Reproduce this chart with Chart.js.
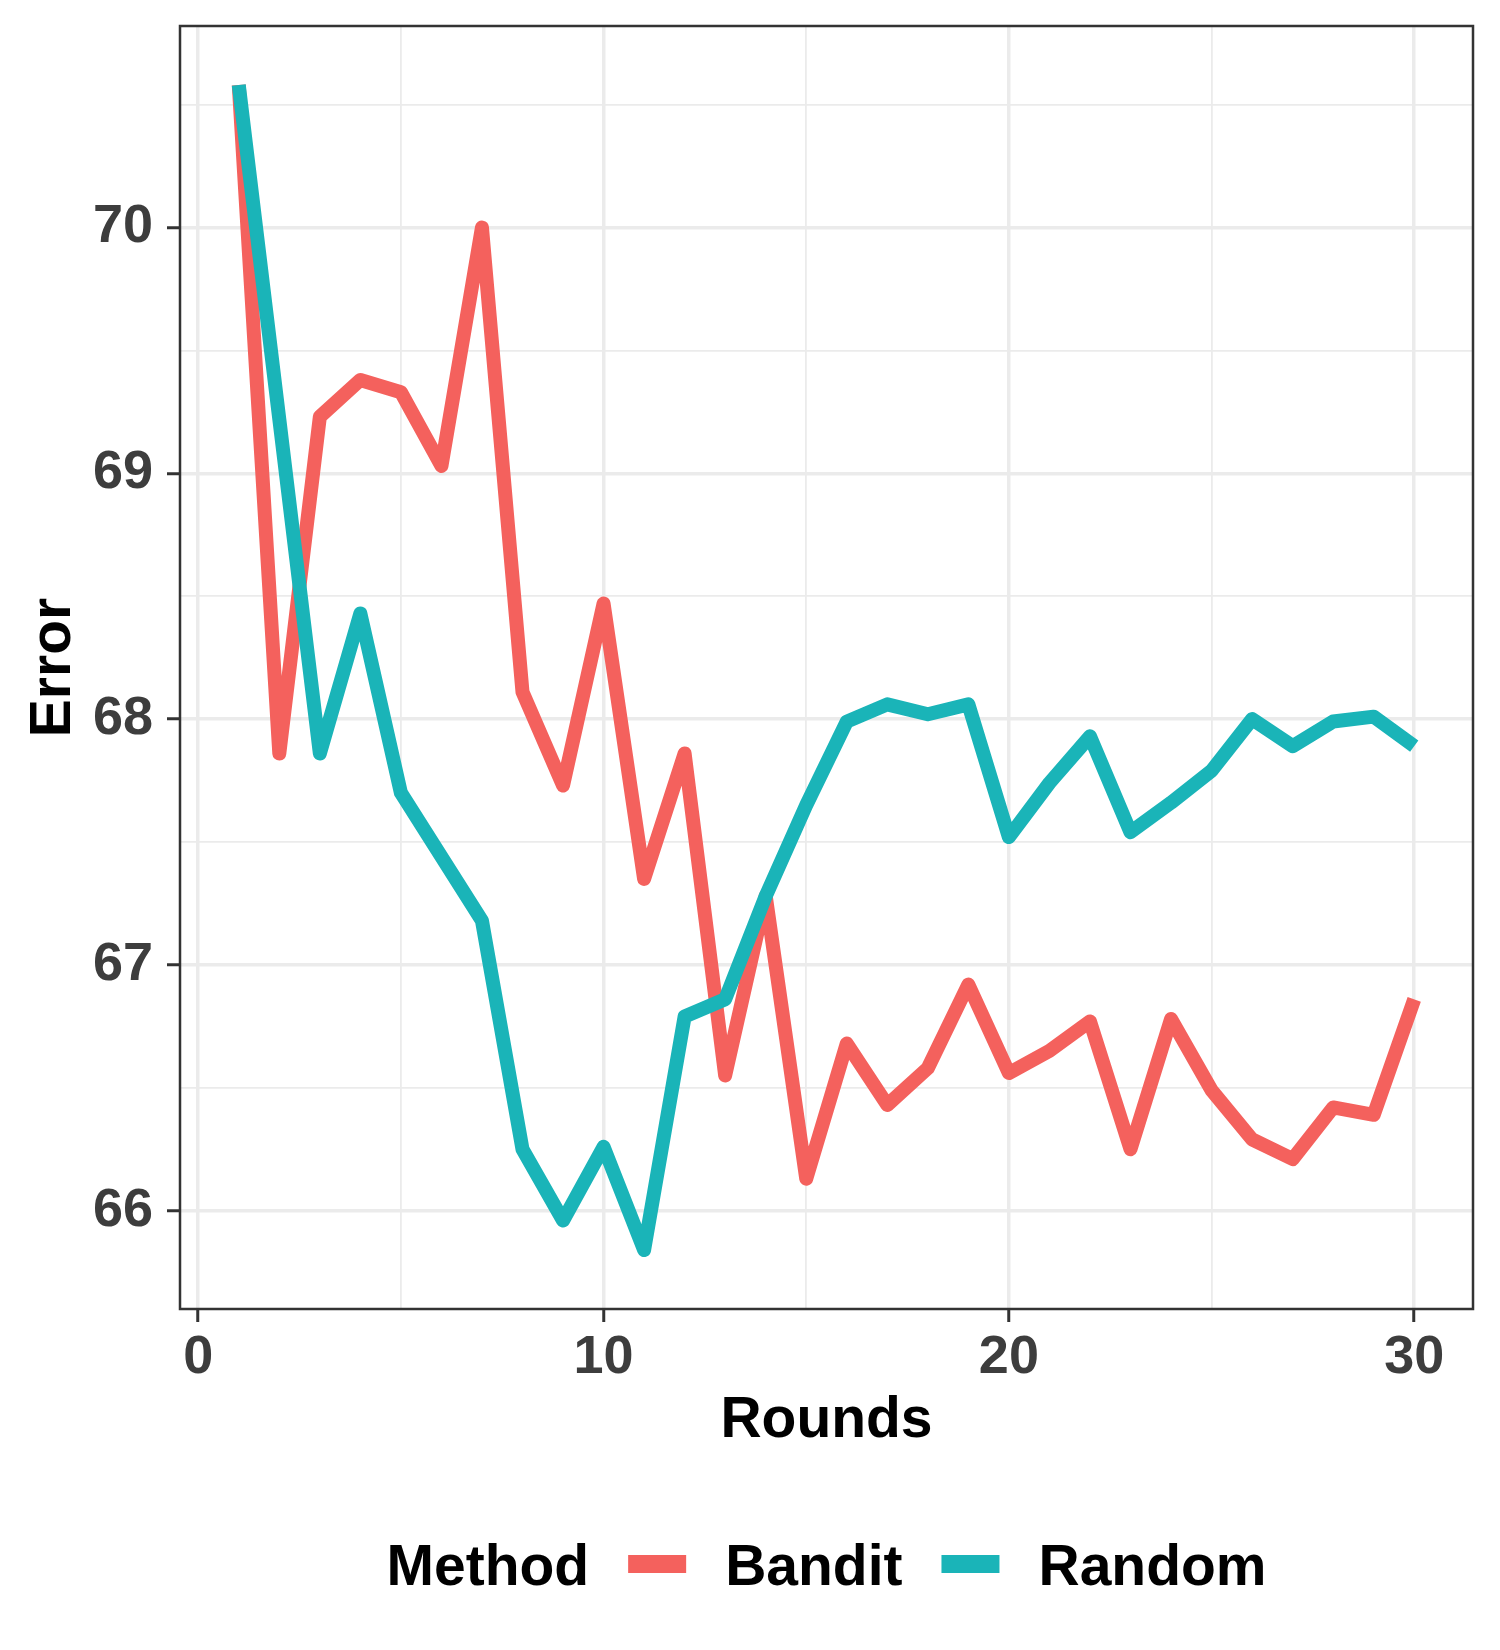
<!DOCTYPE html>
<html>
<head>
<meta charset="utf-8">
<script src="https://cdn.jsdelivr.net/npm/chart.js@4.4.1/dist/chart.umd.min.js"></script>
<style>
  html, body { margin: 0; padding: 0; background: #fff; }
  canvas { display: block; }
</style>
</head>
<body>
<canvas id="err" width="1500" height="1650" style="width:1500px;height:1650px"></canvas>
<script>
const ROUNDS = [1, 2, 3, 4, 5, 6, 7, 8, 9, 10, 11, 12, 13, 14, 15,
  16, 17, 18, 19, 20, 21, 22, 23, 24, 25, 26, 27, 28, 29, 30]
const BANDIT = [70.58, 67.86, 69.23, 69.38, 69.33, 69.03, 70.00, 68.11, 67.73, 68.47,
  67.35, 67.86, 66.55, 67.28, 66.13, 66.68, 66.43, 66.58, 66.92, 66.56,
  66.65, 66.77, 66.25, 66.78, 66.49, 66.29, 66.21, 66.42, 66.39, 66.86]
const RANDOM = [70.58, 69.22, 67.86, 68.43, 67.70, 67.44, 67.18, 66.25, 65.96, 66.26,
  65.84, 66.79, 66.86, 67.28, 67.65, 67.99, 68.06, 68.02, 68.06, 67.52,
  67.74, 67.93, 67.54, 67.66, 67.79, 68.00, 67.89, 67.99, 68.01, 67.89]
const X_TICKS = [0, 5, 10, 15, 20, 25, 30]
const Y_TICKS = [66, 66.5, 67, 67.5, 68, 68.5, 69, 69.5, 70, 70.5]
const METHODS = ['Bandit', 'Random']
const COLORS = ['#F4615D', '#1AB4B8']

const FONT = 'Liberation Sans, Arial, Helvetica, sans-serif'

function pts(vals) {
  return ROUNDS.map((r, i) => ({ x: r, y: vals[i] }))
}

// ggplot-style frame, axis titles and the inline legend
const decor = {
  id: 'decor',
  afterDraw(chart) {
    const ctx = chart.ctx
    const a = chart.chartArea
    ctx.save()
    ctx.strokeStyle = '#333333'
    ctx.lineWidth = 2.5
    ctx.strokeRect(a.left, a.top, a.right - a.left, a.bottom - a.top)

    ctx.fillStyle = '#000'
    ctx.font = 'bold 57px ' + FONT
    ctx.textAlign = 'center'
    ctx.textBaseline = 'alphabetic'
    const cx = (a.left + a.right) / 2
    ctx.fillText('Rounds', cx, 1437)

    ctx.save()
    ctx.translate(70, (a.top + a.bottom) / 2)
    ctx.rotate(-Math.PI / 2)
    ctx.fillText('Error', 0, 0)
    ctx.restore()

    // legend: "Method  [key] Bandit  [key] Random"
    ctx.textAlign = 'left'
    const gap = 39, keyW = 58, keyH = 18, base = 1585
    const wTitle = ctx.measureText('Method').width
    const wItems = METHODS.map(m => ctx.measureText(m).width)
    let total = wTitle
    wItems.forEach(w => { total += gap + keyW + gap + w })
    let x = cx - total / 2
    ctx.fillText('Method', x, base)
    x += wTitle
    METHODS.forEach((m, i) => {
      x += gap
      ctx.fillStyle = COLORS[i]
      ctx.fillRect(x, 1564 - keyH / 2, keyW, keyH)
      x += keyW + gap
      ctx.fillStyle = '#000'
      ctx.fillText(m, x, base)
      x += wItems[i]
    })
    ctx.restore()
  }
}

const chart = new Chart(document.getElementById('err'), {
  type: 'line',
  data: {
    datasets: [
      {
        label: METHODS[0],
        data: pts(BANDIT),
        borderColor: COLORS[0],
        borderWidth: 14,
        borderJoinStyle: 'round',
        borderCapStyle: 'butt',
        pointRadius: 0,
        tension: 0,
        order: 1,
      },
      {
        label: METHODS[1],
        data: pts(RANDOM),
        borderColor: COLORS[1],
        borderWidth: 14,
        borderJoinStyle: 'round',
        borderCapStyle: 'butt',
        pointRadius: 0,
        tension: 0,
        order: 0,
      },
    ],
  },
  options: {
    responsive: false,
    devicePixelRatio: 1,
    animation: false,
    layout: {
      autoPadding: false,
      padding: { left: 0, top: 26, right: 27, bottom: 0 },
    },
    plugins: {
      legend: { display: false },
      tooltip: { enabled: false },
    },
    scales: {
      x: {
        type: 'linear',
        min: -0.45,
        max: 31.45,
        afterBuildTicks: ax => { ax.ticks = X_TICKS.map(v => ({ value: v })) },
        afterFit: ax => {
          ax.height = 341
          ax.paddingLeft = 0
          ax.paddingRight = 0
        },
        border: { display: false },
        grid: {
          color: '#ebebeb',
          lineWidth: c => (c.tick && c.tick.value % 10 === 0) ? 3.5 : 1.8,
          tickColor: c => (c.tick && c.tick.value % 10 === 0) ? '#333333' : 'rgba(0,0,0,0)',
          tickWidth: 3,
          tickLength: 13,
        },
        ticks: {
          autoSkip: false,
          maxRotation: 0,
          padding: 4,
          color: '#3d3d3d',
          font: { family: FONT, size: 54, weight: 'bold' },
          callback: v => v % 10 === 0 ? v : '',
        },
      },
      y: {
        min: 65.60,
        max: 70.82,
        afterBuildTicks: ax => { ax.ticks = Y_TICKS.map(v => ({ value: v })) },
        afterFit: ax => {
          ax.width = 180
          ax.paddingTop = 0
          ax.paddingBottom = 0
        },
        border: { display: false },
        grid: {
          color: '#ebebeb',
          lineWidth: c => (c.tick && Number.isInteger(c.tick.value)) ? 3.5 : 1.8,
          tickColor: c => (c.tick && Number.isInteger(c.tick.value)) ? '#333333' : 'rgba(0,0,0,0)',
          tickWidth: 3,
          tickLength: 13,
        },
        ticks: {
          autoSkip: false,
          padding: 14,
          color: '#3d3d3d',
          font: { family: FONT, size: 54, weight: 'bold' },
          callback: v => Number.isInteger(v) ? v : '',
        },
      },
    },
  },
  plugins: [decor],
})
</script>
</body>
</html>
